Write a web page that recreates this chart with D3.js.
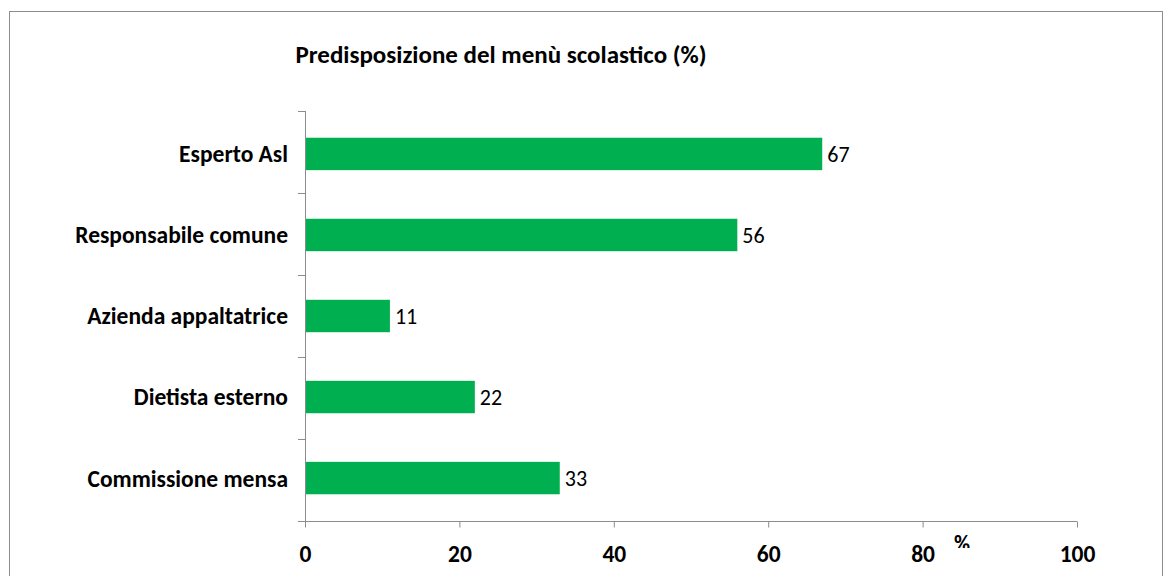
<!DOCTYPE html>
<html><head><meta charset="utf-8">
<script src="https://cdn.jsdelivr.net/npm/d3@7"></script>
<style>body{margin:0;background:#fff}svg{display:block}text{font-family:Carlito,Lato,"Open Sans",sans-serif}</style>
</head><body>
<svg id="c" width="1164" height="576"></svg>
<script>
const categories = ["Esperto Asl","Responsabile comune","Azienda appaltatrice","Dietista esterno","Commissione mensa"];
const values = [67,56,11,22,33];
const xTicks = [0,20,40,60,80,100];
const title = "Predisposizione del menù scolastico (%)";
const unitLabel = "%";

const svg = d3.select("#c");
svg.append("rect").attr("x",9.5).attr("y",11.5).attr("width",1153).attr("height",600)
  .attr("fill","#fff").attr("stroke","#8c8c8c").attr("stroke-width",1);

const x = d3.scaleLinear().domain([0,100]).range([305,1077]);
const y = d3.scaleBand().domain(categories).range([111,521]).paddingInner(0.6).paddingOuter(0.33);

const axisColor = "#8c8c8c";
const fs = 23.5;
// bars
svg.selectAll("rect.bar").data(categories).join("rect").attr("class","bar")
  .attr("x",x(0)).attr("y",d=>y(d)).attr("height",y.bandwidth())
  .attr("width",(d,i)=>x(values[i])-x(0)).attr("fill","#00B050");
// value labels
svg.selectAll("text.val").data(categories).join("text").attr("class","val")
  .attr("x",(d,i)=>x(values[i])+5).attr("y",d=>y(d)+y.bandwidth()/2).attr("dy","0.36em")
  .attr("font-size",22).attr("fill","#000").text((d,i)=>values[i]);

// y axis
const yl = svg.append("g");
yl.append("line").attr("x1",305.5).attr("x2",305.5).attr("y1",111).attr("y2",521).attr("stroke",axisColor);
const bounds = d3.range(categories.length+1).map(i=>111+i*(410/categories.length));
yl.selectAll("line.t").data(bounds).join("line").attr("class","t")
  .attr("x1",298).attr("x2",305).attr("y1",d=>Math.round(d)+0.5).attr("y2",d=>Math.round(d)+0.5).attr("stroke",axisColor);
yl.selectAll("text").data(categories).join("text")
  .attr("x",288).attr("y",d=>y(d)+y.bandwidth()/2).attr("dy","0.36em").attr("text-anchor","end")
  .attr("font-size",fs).attr("font-weight","bold").attr("fill","#000").text(d=>d);

// x axis
const xa = svg.append("g").attr("transform","translate(0,521.5)")
  .call(d3.axisBottom(x).tickValues(xTicks).tickSize(6).tickSizeOuter(0).tickPadding(18));
xa.select(".domain").attr("stroke",axisColor).attr("d","M298,0H1077");
xa.selectAll(".tick line").attr("stroke",axisColor);
xa.selectAll(".tick text").attr("font-size",fs).attr("font-weight","bold").attr("fill","#000")
  .attr("font-family","Carlito,Lato,'Open Sans',sans-serif");

// unit label clipped
svg.append("clipPath").attr("id","clipU").append("rect").attr("x",940).attr("y",525).attr("width",50).attr("height",23);
svg.append("text").attr("x",962).attr("y",551).attr("text-anchor","middle").attr("clip-path","url(#clipU)")
  .attr("font-size",22).attr("font-weight","bold").attr("fill","#000").text(unitLabel);

// title
svg.append("text").attr("x",501).attr("y",63).attr("text-anchor","middle")
  .attr("font-size",25).attr("font-weight","bold").attr("fill","#000").text(title);
</script>
</body></html>
